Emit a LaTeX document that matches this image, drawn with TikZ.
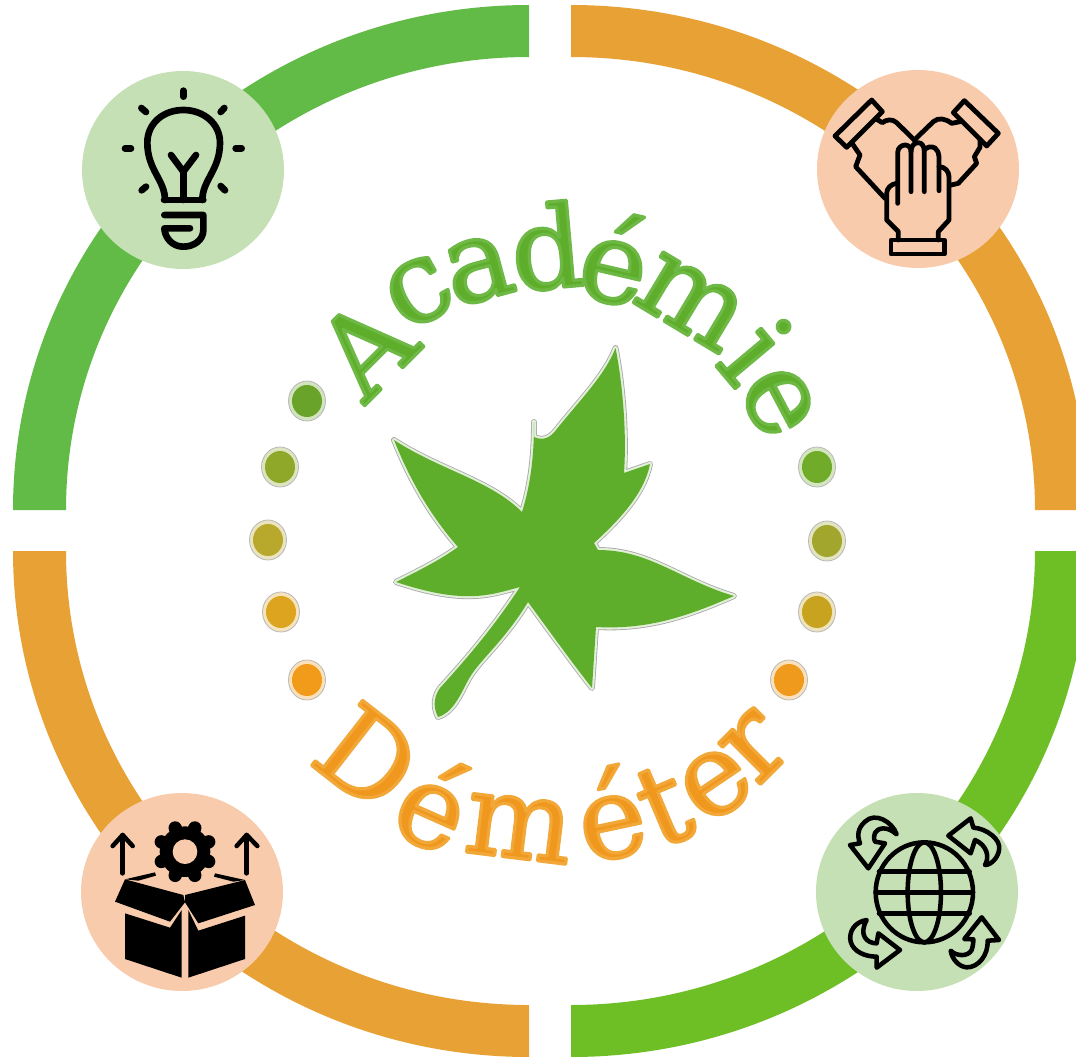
\documentclass[tikz,border=0pt]{standalone}
\usepackage{fontspec}
\usetikzlibrary{shapes.geometric}
\newfontfamily\logofont{DejaVu Serif}
\definecolor{ringgreen}{HTML}{62BB47}
\definecolor{ringorange}{HTML}{E8A135}
\definecolor{ringlime}{HTML}{6EBE26}
\definecolor{palegreen}{HTML}{C5E0B4}
\definecolor{paleorange}{HTML}{F8CBAD}
\definecolor{leafgreen}{HTML}{5FAE2B}
\definecolor{textorange}{HTML}{F0981E}
\definecolor{dotA}{HTML}{6AA32A}
\definecolor{dotB}{HTML}{8FA82A}
\definecolor{dotC}{HTML}{B8A82C}
\definecolor{dotD}{HTML}{DCA41F}
\definecolor{dotE}{HTML}{F29A1A}
\definecolor{dotF}{HTML}{71AB2A}
\definecolor{dotG}{HTML}{A3A62C}
\definecolor{dotH}{HTML}{C8A31F}
\definecolor{dotI}{HTML}{EF9A1C}
\tikzset{
  badge/.style={ellipse,minimum width=151.5pt,minimum height=148.5pt,inner sep=0pt,fill=#1},
  iconline/.style={draw=black,line width=#1,line cap=round,line join=round},
  iconunits/.style={x=0.25pt,y=-0.25pt},
  halo/.style={draw=black!35,line width=4.4pt,line join=round},
  halotwo/.style={draw=#1,line width=3.2pt,line join=round},
  logoletter/.style={inner sep=0pt,outer sep=0pt,font=\logofont\fontsize{85}{85}\selectfont}
}
% letter with a soft rim: fill + stroke text render mode
\newcommand\gletter[4]{\node[logoletter,rotate=#4,text=leafgreen] (#1) at (#2) {\special{pdf:code 0.43 0.72 0.27 RG 2.4 w 1 j 2 Tr}#3\special{pdf:code 0 Tr}};}
\newcommand\oletter[4]{\node[logoletter,rotate=#4,text=textorange] (#1) at (#2) {\special{pdf:code 0.95 0.66 0.22 RG 2.4 w 1 j 2 Tr}#3\special{pdf:code 0 Tr}};}
\newcommand\logodot[2]{%
  \fill[#2!30!white,draw=black!28,line width=0.6pt] (#1) ellipse [x radius=18.5,y radius=20];
  \fill[#2] (#1) ellipse [x radius=15,y radius=16];}
\begin{document}
\begin{tikzpicture}[x=0.75pt,y=-0.75pt]
\useasboundingbox (0,0) rectangle (1076,1057);
\clip (0,0) rectangle (1076,1057);
% ring
\fill[ringgreen] (13,510) .. controls (13,231) and (244,5) .. (529,5) -- (529,57) .. controls (273,57) and (66,260) .. (66,510) -- cycle;
\fill[ringorange] (571,5) .. controls (857,5) and (1088,231) .. (1088,510) -- (1035,510) .. controls (1035,260) and (827,57) .. (571,57) -- cycle;
\fill[ringorange] (13,551) .. controls (13,830) and (244,1057) .. (529,1057) -- (529,1005) .. controls (273,1005) and (66,802) .. (66,551) -- cycle;
\fill[ringlime] (571,1057) .. controls (857,1057) and (1088,830) .. (1088,551) -- (1035,551) .. controls (1035,802) and (827,1005) .. (571,1005) -- cycle;
% badges
\node[badge=palegreen] (idea) at (183,170) {};
\node[badge=paleorange] (hands) at (918,169) {};
\node[badge=paleorange] (box) at (182,892) {};
\node[badge=palegreen] (globe) at (917,892) {};
% bulb
\begin{scope}[shift={(70,60)},iconunits]
  \begin{scope}[iconline=5pt]
  \draw (340,92)--(340,110);
  \draw (214,144)--(228,156);
  \draw (463,144)--(452,156);
  \draw (165,265)--(183,265);
  \draw (497,265)--(515,265);
  \draw (228,380)--(215,391);
  \draw (452,378)--(465,391);
  \end{scope}
  \draw[iconline=5pt] (285,420) .. controls (285,360) and (232,330) .. (232,248) .. controls (232,190) and (280,150) .. (340,150) .. controls (400,150) and (450,190) .. (450,248) .. controls (450,330) and (397,360) .. (397,420);
  \draw[iconline=5pt] (282,420)--(400,420);
  \draw[iconline=5pt] (303,285)--(340,335)--(378,285);
  \draw[iconline=5pt] (340,335)--(340,420);
  \draw[iconline=5pt] (283,465)--(400,465)--(400,510) .. controls (400,540) and (372,560) .. (340,560) .. controls (308,560) and (285,535) .. (283,505) -- (360,505);
\end{scope}
% hands
\begin{scope}[shift={(805,60)},iconunits,iconline=3.6pt]
  \draw (200,120)--(232,155)--(125,262)--(90,228)--cycle;
  \draw (478,122)--(580,220)--(545,258)--(445,158)--cycle;
  \draw (212,176) -- (232,188) .. controls (245,178) and (262,176) .. (275,188) -- (328,240);
  \draw (140,248) -- (165,285) -- (152,320) -- (240,415);
  \draw (470,184) -- (440,190) .. controls (420,175) and (400,172) .. (385,185) -- (328,240);
  \draw (525,238) -- (525,262) -- (508,290) -- (515,310) -- (460,370) -- (434,376);
  \draw (278,430) -- (278,278) .. controls (278,262) and (292,255) .. (300,255) .. controls (310,255) and (318,262) .. (318,275) -- (318,395);
  \draw (318,275) .. controls (318,255) and (330,248) .. (340,248) .. controls (350,248) and (358,258) .. (358,275) -- (358,395);
  \draw (358,270) .. controls (365,260) and (380,258) .. (390,264) .. controls (398,270) and (402,280) .. (402,290) -- (402,392);
  \draw (402,320) .. controls (420,320) and (432,335) .. (432,350) -- (432,480) -- (400,515) -- (400,540);
  \draw (275,370) .. controls (258,372) and (245,385) .. (245,400) -- (245,480) -- (280,515) -- (280,540);
  \draw (258,540) rectangle (418,582);
\end{scope}
% open box
\begin{scope}[shift={(70,785)},iconunits]
  \draw[iconline=3.4pt] (158,265)--(158,150);
  \draw[iconline=3.4pt] (128,183)--(158,150)--(188,183);
  \draw[iconline=3.4pt] (530,265)--(530,150);
  \draw[iconline=3.4pt] (500,183)--(530,150)--(562,183);
  \fill[black] (345,200) circle [radius=76];
  \foreach \a in {0,45,...,315} \draw[black,line width=10pt,line cap=round] (345,200) -- ++(\a+22.5:77);
  \fill[paleorange] (345,200) circle [radius=37];
  \fill[black,line join=round] (165,283)--(340,330)--(345,352)--(300,410)--(135,350)--cycle;
  \fill[black] (525,285)--(345,330)--(345,352)--(385,415)--(555,360)--cycle;
  \fill[black] (165,283)--(255,262)--(258,272)--(205,287)--cycle;
  \fill[black] (525,285)--(435,265)--(432,275)--(490,290)--cycle;
  \fill[black] (165,385)--(300,428)--(335,375)--(335,578)--(165,522)--cycle;
  \fill[black] (355,375)--(385,437)--(525,392)--(525,522)--(355,578)--cycle;
\end{scope}
% globe
\begin{scope}[shift={(805,785)},iconunits,iconline=3.4pt]
  \draw (358,322) ellipse [x radius=146,y radius=150];
  \draw (358,322) ellipse [x radius=50,y radius=150];
  \draw (222,260)--(494,260);
  \draw (212,322)--(504,322);
  \draw (222,385)--(494,385);
  \draw (275,148) .. controls (262,110) and (210,80) .. (180,110) .. controls (158,130) and (156,150) .. (165,175) -- (135,180) -- (190,250) -- (240,175) -- (210,170) .. controls (202,150) and (210,132) .. (235,130) .. controls (252,130) and (265,140) .. (275,148) -- cycle;
  \draw (430,152) -- (497,100) -- (505,128) .. controls (545,130) and (590,165) .. (582,195) .. controls (580,215) and (560,240) .. (540,240) .. controls (555,215) and (545,180) .. (510,165) -- (497,205) -- cycle;
  \draw (185,405) .. controls (150,410) and (130,440) .. (137,470) .. controls (145,500) and (180,515) .. (215,515) -- (215,548) -- (285,495) -- (220,445) -- (215,475) .. controls (185,475) and (160,450) .. (185,405) -- cycle;
  \draw (530,397) -- (582,465) -- (548,467) .. controls (550,510) and (520,548) .. (485,547) .. controls (460,545) and (440,520) .. (437,497) .. controls (455,515) and (490,515) .. (500,495) .. controls (505,480) and (505,470) .. (505,463) -- (478,462) -- cycle;
\end{scope}
% leaf
\def\leafpath{(615.5,348) .. controls (622,380) and (627,430) .. (624,473) -- (650,464) .. controls (645,490) and (625,515) .. (594,543) -- (598,550) .. controls (650,550) and (680,580) .. (734,596) .. controls (690,615) and (650,630) .. (596,627) -- (592,688) .. controls (570,660) and (545,625) .. (528,602) .. controls (505,640) and (480,660) .. (470,677) .. controls (462,690) and (455,712) .. (438,717) .. controls (432,705) and (435,695) .. (440,688) .. controls (470,655) and (495,625) .. (520,587) .. controls (490,595) and (465,605) .. (396,582) .. controls (420,570) and (440,560) .. (458,547) .. controls (430,515) and (410,480) .. (394,440) .. controls (440,470) and (490,480) .. (522,512) .. controls (532,480) and (534,450) .. (534,422) -- (534,437) .. controls (543,441) and (550,438) .. (556,430) .. controls (580,400) and (605,375) .. (615.5,348) -- cycle}
\draw[halo] \leafpath;
\draw[halotwo=palegreen!50!white] \leafpath;
\fill[leafgreen] \leafpath;
% dots
\logodot{307,401}{dotA}
\logodot{280,467}{dotB}
\logodot{268,540}{dotC}
\logodot{281,612}{dotD}
\logodot{307,680}{dotE}
\logodot{817,467}{dotF}
\logodot{827,541}{dotG}
\logodot{817,612}{dotH}
\logodot{789,680}{dotI}
% lettering, one rotated letter at a time
\gletter{a1}{365,347}{A}{45}
\gletter{a2}{419,292}{c}{29}
\gletter{a3}{479,270}{a}{15}
\gletter{a4}{547,246}{d}{5}
\gletter{a5}{616,258}{é}{-13}
\gletter{a6}{691,302}{m}{-31}
\gletter{a7}{757,350}{i}{-50}
\gletter{a8}{778,402}{e}{-62}
\oletter{d1}{368,757}{D}{-38}
\oletter{d2}{435,803}{é}{-24}
\oletter{d3}{519,828}{m}{-7}
\oletter{d4}{610,813}{é}{12}
\oletter{d5}{664,806}{t}{23}
\oletter{d6}{716,784}{e}{34}
\oletter{d7}{755,747}{r}{45}
\end{tikzpicture}
\end{document}
